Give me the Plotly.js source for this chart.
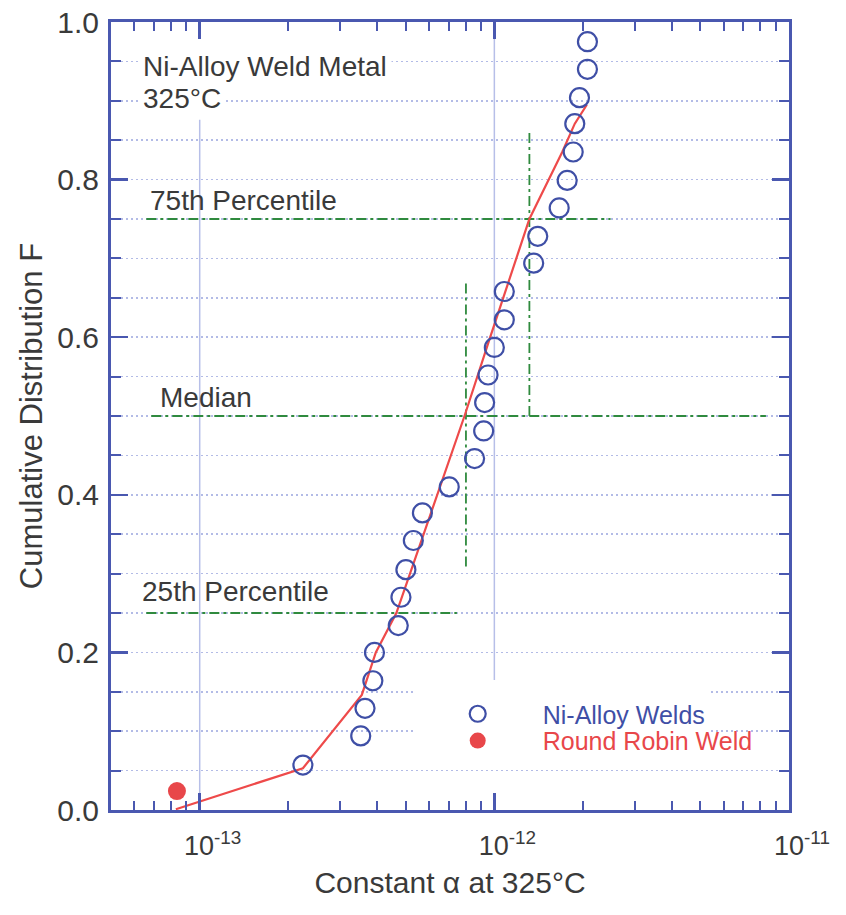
<!DOCTYPE html>
<html>
<head>
<meta charset="utf-8">
<script src="https://cdn.plot.ly/plotly-3.0.1.min.js"></script>
<style>
  html, body { margin: 0; padding: 0; background: #ffffff; }
  #chart { width: 846px; height: 915px; }
</style>
</head>
<body>
<div id="chart"></div>
<script>
// ---------------- data ----------------
const alphaNi = [2.07e-12, 2.07e-12, 1.945e-12, 1.875e-12, 1.852e-12, 1.767e-12, 1.66e-12,
                 1.404e-12, 1.36e-12, 1.081e-12, 1.081e-12, 1.0e-12, 9.52e-13, 9.27e-13,
                 9.2e-13, 8.57e-13, 7.03e-13, 5.70e-13, 5.31e-13, 5.01e-13, 4.82e-13,
                 4.72e-13, 3.92e-13, 3.87e-13, 3.64e-13, 3.52e-13, 2.24e-13];
const FNi = [0.975, 0.940, 0.904, 0.871, 0.835, 0.799, 0.764,
             0.728, 0.694, 0.658, 0.622, 0.587, 0.552, 0.517,
             0.481, 0.446, 0.410, 0.377, 0.342, 0.305, 0.270,
             0.234, 0.200, 0.164, 0.129, 0.094, 0.057];

const alphaRR = [8.37e-14];
const FRR = [0.024];

const fitAlpha = [8.3e-14, 2.24e-13, 3.55e-13, 3.96e-13, 4.65e-13, 6.55e-13, 7.92e-13,
                  9.68e-13, 1.315e-12, 1.70e-12, 1.875e-12, 2.06e-12];
const fitF = [0.001, 0.053, 0.146, 0.200, 0.250, 0.410, 0.500,
              0.600, 0.750, 0.835, 0.871, 0.895];

// percentile guide lines
const q75H_x = [6.59e-14, 2.48e-12], q75H_y = [0.75, 0.75];
const q75V_x = [1.315e-12, 1.315e-12], q75V_y = [0.50, 0.863];
const medH_x = [6.85e-14, 8.35e-12], medH_y = [0.50, 0.50];
const medV_x = [8.01e-13, 8.01e-13], medV_y = [0.309, 0.672];
const q25H_x = [6.59e-14, 7.46e-13], q25H_y = [0.25, 0.25];

const xTickVals = [1e-13, 1e-12, 1e-11];
const xTickText = ['10<sup>-13</sup>', '10<sup>-12</sup>', '10<sup>-11</sup>'];

const seriesNames = ['Ni-Alloy Welds', 'Round Robin Weld'];

// ---------------- style ----------------
const AXIS = '#4a58b0';
const GRID = '#b3bbe6';
const GREEN = '#2f8a3e';
const BLUE = '#3f4fa6';
const RED = '#e8474a';
const TXT = '#3a3a3a';
const FONT = 'Liberation Sans, Arial, sans-serif';
const GDASH = '10px,4px,3px,4px';
const GRIDDASH = '2px,3px';

function guide(x, y) {
  return { x: x, y: y, mode: 'lines', type: 'scatter', showlegend: false, hoverinfo: 'skip',
           line: { color: GREEN, width: 1.8, dash: GDASH } };
}

const traces = [
  guide(q75H_x, q75H_y), guide(q75V_x, q75V_y),
  guide(medH_x, medH_y), guide(medV_x, medV_y),
  guide(q25H_x, q25H_y),
  { x: fitAlpha, y: fitF, mode: 'lines', type: 'scatter', showlegend: false,
    line: { color: '#ee4a4a', width: 2.2 } },
  { x: alphaNi, y: FNi, mode: 'markers', type: 'scatter', legend: 'legend',
    name: '<span style="color:' + BLUE + '">' + seriesNames[0] + '</span>',
    marker: { symbol: 'circle-open', size: 19, color: BLUE, line: { width: 2.2, color: BLUE } } },
  { x: alphaRR, y: FRR, mode: 'markers', type: 'scatter', legend: 'legend2',
    name: '<span style="color:' + RED + '">' + seriesNames[1] + '</span>',
    marker: { symbol: 'circle', size: 18, color: RED } }
];

const legendBase = {
  x: 0.445, xanchor: 'left', yanchor: 'top',
  borderwidth: 0,
  itemwidth: 120, font: { size: 25, family: FONT }
};

const layout = {
  width: 846, height: 915,
  margin: { l: 111, r: 57, t: 22, b: 105 },
  paper_bgcolor: '#ffffff', plot_bgcolor: '#ffffff',
  font: { family: FONT, color: TXT },
  showlegend: true,
  legend: Object.assign({}, legendBase, { y: 0.151, bgcolor: '#ffffff' }),
  legend2: Object.assign({}, legendBase, { y: 0.117, bgcolor: 'rgba(255,255,255,0)' }),
  xaxis: {
    type: 'log', range: [Math.log10(5e-14), -11],
    showline: true, linecolor: AXIS, linewidth: 3, mirror: 'ticks',
    ticks: 'inside', ticklen: 17, tickwidth: 2.5, tickcolor: AXIS,
    tickmode: 'array', tickvals: xTickVals, ticktext: xTickText,
    tickfont: { size: 27, family: FONT, color: TXT },
    ticklabelstandoff: 10, ticklabelshift: 13,
    showgrid: false, zeroline: false,
    minor: { dtick: 'D1', ticks: 'inside', ticklen: 9, tickwidth: 2, tickcolor: AXIS, showgrid: false },
    title: { text: 'Constant α at 325°C', font: { size: 30, family: FONT, color: TXT }, standoff: 12 }
  },
  yaxis: {
    range: [0, 1], dtick: 0.2, tickformat: '.1f',
    showline: true, linecolor: AXIS, linewidth: 3, mirror: 'ticks',
    ticks: 'inside', ticklen: 17, tickwidth: 2.5, tickcolor: AXIS,
    tickfont: { size: 30, family: FONT, color: TXT },
    ticklabelstandoff: 3,
    showgrid: true, gridcolor: GRID, gridwidth: 1.5, griddash: GRIDDASH,
    zeroline: false,
    minor: { dtick: 0.05, ticks: 'inside', ticklen: 10, tickwidth: 2, tickcolor: AXIS,
             showgrid: true, gridcolor: GRID, gridwidth: 1.5, griddash: GRIDDASH },
    title: { text: 'Cumulative Distribution F', font: { size: 31, family: FONT, color: TXT }, standoff: 6 }
  },
  shapes: [
    { type: 'line', xref: 'x', yref: 'paper', x0: 1e-13, x1: 1e-13, y0: 0, y1: 0.876, layer: 'below',
      line: { color: '#b7bfe8', width: 1.5 } },
    { type: 'line', xref: 'x', yref: 'paper', x0: 1e-12, x1: 1e-12, y0: 0.165, y1: 1, layer: 'below',
      line: { color: '#b7bfe8', width: 1.5 } }
  ],
  annotations: [
    { text: 'Ni-Alloy Weld Metal', xref: 'paper', yref: 'paper', x: 0.040, y: 0.944,
      xanchor: 'left', yanchor: 'middle', showarrow: false, bgcolor: '#ffffff', borderpad: 4,
      font: { size: 28, family: FONT, color: TXT } },
    { text: '325°C', xref: 'paper', yref: 'paper', x: 0.040, y: 0.903,
      xanchor: 'left', yanchor: 'middle', showarrow: false, bgcolor: '#ffffff', borderpad: 4,
      font: { size: 28, family: FONT, color: TXT } },
    { text: '75th Percentile', xref: 'paper', yref: 'paper', x: 0.0545, y: 0.774,
      xanchor: 'left', yanchor: 'middle', showarrow: false,
      font: { size: 28, family: FONT, color: TXT } },
    { text: 'Median', xref: 'paper', yref: 'paper', x: 0.0695, y: 0.524,
      xanchor: 'left', yanchor: 'middle', showarrow: false,
      font: { size: 28, family: FONT, color: TXT } },
    { text: '25th Percentile', xref: 'paper', yref: 'paper', x: 0.0428, y: 0.277,
      xanchor: 'left', yanchor: 'middle', showarrow: false,
      font: { size: 28, family: FONT, color: TXT } }
  ]
};

Plotly.newPlot('chart', traces, layout, { displayModeBar: false, staticPlot: true });
</script>
</body>
</html>
